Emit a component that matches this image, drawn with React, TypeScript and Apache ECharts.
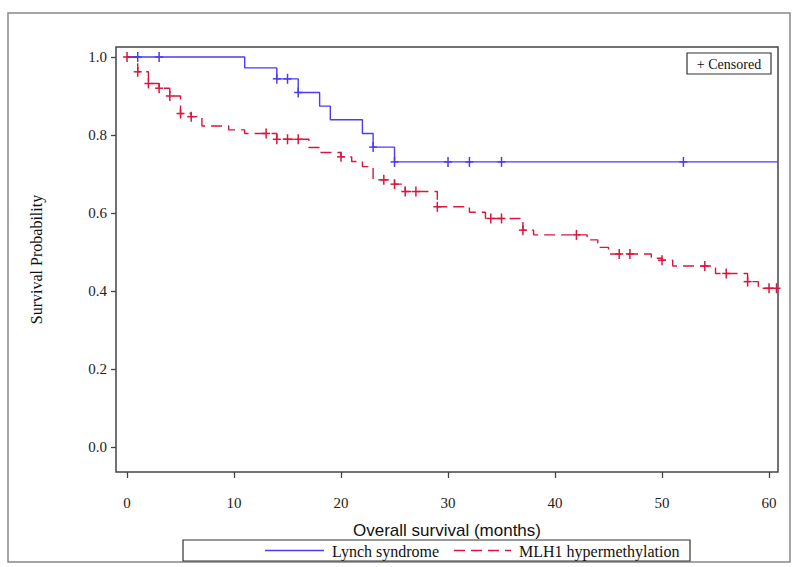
import React, { useEffect, useRef } from "react";
import * as echarts from "echarts";

// ---- data ----
const lynchTimes = [0, 11, 14, 16, 18, 19, 22, 23, 25];
const lynchSurv = [1.0, 0.972, 0.944, 0.909, 0.874, 0.839, 0.804, 0.769, 0.731];
const lynchLastFollowUp = 60.84;
const lynchCensored = [1, 3, 14, 15, 16, 23, 25, 30, 32, 35, 52];

const mlhTimes = [0, 1, 2, 3, 4, 5, 6, 7, 9.5, 11, 14, 17, 18, 20, 21, 22, 23, 25, 26, 29, 32, 33.5, 37, 38, 43, 44, 45, 49, 50, 51, 55, 58, 59];
const mlhSurv = [1.0, 0.962, 0.932, 0.92, 0.9, 0.855, 0.847, 0.823, 0.813, 0.804, 0.789, 0.768, 0.755, 0.744, 0.732, 0.719, 0.685, 0.674, 0.655, 0.616, 0.602, 0.586, 0.556, 0.544, 0.531, 0.512, 0.495, 0.484, 0.479, 0.464, 0.445, 0.424, 0.407];
const mlhLastFollowUp = 60.7;
const mlhCensored = [0, 1, 2, 3, 4, 5, 6, 13, 14, 15, 16, 20, 24, 25, 26, 27, 29, 34, 35, 37, 42, 46, 47, 50, 54, 56, 58, 60, 60.7];

const xTicks = [0, 10, 20, 30, 40, 50, 60];
const yTicks = [0, 0.2, 0.4, 0.6, 0.8, 1.0];

const seriesNames = ["Lynch syndrome", "MLH1 hypermethylation"];
const xTitle = "Overall survival (months)";
const yTitle = "Survival Probability";
const censorLabel = "+ Censored";

const BLUE = "#4a3cf2";
const RED = "#d8163f";

function stepData(times: number[], surv: number[], end: number) {
  const d = times.map((t, i) => [t, surv[i]]);
  d.push([end, surv[surv.length - 1]]);
  return d;
}
function survAt(times: number[], surv: number[], t: number) {
  let s = surv[0];
  for (let i = 0; i < times.length; i++) if (times[i] <= t) s = surv[i];
  return s;
}
function censorData(times: number[], surv: number[], cens: number[]) {
  return cens.map((t) => [t, survAt(times, surv, t)]);
}

function plusRenderer(color: string) {
  return (params: any, api: any) => {
    const p = api.coord([api.value(0), api.value(1)]);
    const st = { stroke: color, lineWidth: 1.5 };
    return {
      type: "group",
      children: [
        { type: "line", shape: { x1: p[0] - 4, y1: p[1], x2: p[0] + 4, y2: p[1] }, style: st },
        { type: "line", shape: { x1: p[0], y1: p[1] - 5, x2: p[0], y2: p[1] + 5 }, style: st },
      ],
    };
  };
}

const serif = "'Liberation Serif', 'DejaVu Serif', serif";
const sans = "'Liberation Sans', Arial, sans-serif";

export default function App() {
  const ref = useRef<HTMLDivElement>(null);
  useEffect(() => {
    if (!ref.current) return;
    const chart = echarts.init(ref.current, undefined, { renderer: "svg" });
    const option: any = {
      animation: false,
      backgroundColor: "#ffffff",
      grid: {
        left: 116,
        top: 47,
        right: 22,
        bottom: 95,
        show: true,
        borderColor: "#444",
        borderWidth: 1.5,
        backgroundColor: "transparent",
      },
      xAxis: {
        type: "value",
        min: -1.03,
        max: 60.84,
        splitLine: { show: false },
        axisLine: { show: false, onZero: false },
        axisTick: { show: true, inside: false, length: 6, customValues: xTicks, lineStyle: { color: "#444", width: 1.3 } },
        axisLabel: { customValues: xTicks, margin: 23, fontFamily: serif, fontSize: 15, color: "#222" },
        name: xTitle,
        nameLocation: "middle",
        nameGap: 50,
        nameTextStyle: { fontFamily: sans, fontSize: 17, color: "#111" },
      },
      yAxis: {
        type: "value",
        min: -0.064,
        max: 1.0256,
        splitLine: { show: false },
        axisLine: { show: false, onZero: false },
        axisTick: { show: true, inside: false, length: 5, customValues: yTicks, lineStyle: { color: "#444", width: 1.3 } },
        axisLabel: {
          customValues: yTicks,
          margin: 9,
          fontFamily: serif,
          fontSize: 15,
          color: "#222",
          formatter: (v: number) => v.toFixed(1),
        },
        name: yTitle,
        nameLocation: "middle",
        nameGap: 72,
        nameTextStyle: { fontFamily: serif, fontSize: 16, color: "#111" },
      },
      series: [
        {
          name: seriesNames[0],
          type: "line",
          step: "end",
          showSymbol: false,
          symbol: "none",
          data: stepData(lynchTimes, lynchSurv, lynchLastFollowUp),
          lineStyle: { color: BLUE, width: 1.4 },
          z: 3,
        },
        {
          name: seriesNames[1],
          type: "line",
          step: "end",
          showSymbol: false,
          symbol: "none",
          data: stepData(mlhTimes, mlhSurv, mlhLastFollowUp),
          lineStyle: { color: RED, width: 1.4, type: [11, 6] },
          z: 2,
        },
        {
          name: seriesNames[0] + " censored",
          type: "custom",
          renderItem: plusRenderer(BLUE),
          data: censorData(lynchTimes, lynchSurv, lynchCensored),
          z: 5,
        },
        {
          name: seriesNames[1] + " censored",
          type: "custom",
          renderItem: plusRenderer(RED),
          data: censorData(mlhTimes, mlhSurv, mlhCensored),
          z: 4,
        },
      ],
      graphic: [
        {
          type: "rect",
          shape: { x: 8, y: 13, width: 782, height: 549 },
          style: { fill: "none", stroke: "#888", lineWidth: 1.5 },
          silent: true,
        },
        {
          type: "rect",
          shape: { x: 687, y: 53, width: 84, height: 21 },
          style: { fill: "#fff", stroke: "#333", lineWidth: 1.2 },
          z: 10,
        },
        {
          type: "text",
          x: 729,
          y: 64,
          style: { text: censorLabel, fontFamily: serif, fontSize: 14, fill: "#111", align: "center", verticalAlign: "middle" },
          z: 11,
        },
        {
          type: "rect",
          shape: { x: 183, y: 540, width: 507, height: 21 },
          style: { fill: "#fff", stroke: "#333", lineWidth: 1.2 },
          z: 10,
        },
        {
          type: "line",
          shape: { x1: 265, y1: 550.5, x2: 324, y2: 550.5 },
          style: { stroke: BLUE, lineWidth: 1.4 },
          z: 11,
        },
        {
          type: "text",
          x: 332,
          y: 551,
          style: { text: seriesNames[0], fontFamily: serif, fontSize: 16, fill: "#111", align: "left", verticalAlign: "middle" },
          z: 11,
        },
        {
          type: "line",
          shape: { x1: 454, y1: 550.5, x2: 511, y2: 550.5 },
          style: { stroke: RED, lineWidth: 1.4, lineDash: [11, 6] },
          z: 11,
        },
        {
          type: "text",
          x: 519,
          y: 551,
          style: { text: seriesNames[1], fontFamily: serif, fontSize: 16, fill: "#111", align: "left", verticalAlign: "middle" },
          z: 11,
        },
      ],
    };
    chart.setOption(option);
    return () => chart.dispose();
  }, []);
  return (
    <div
      ref={ref}
      style={{ position: "fixed", left: 0, top: 0, width: 800, height: 567, background: "#fff" }}
    />
  );
}
